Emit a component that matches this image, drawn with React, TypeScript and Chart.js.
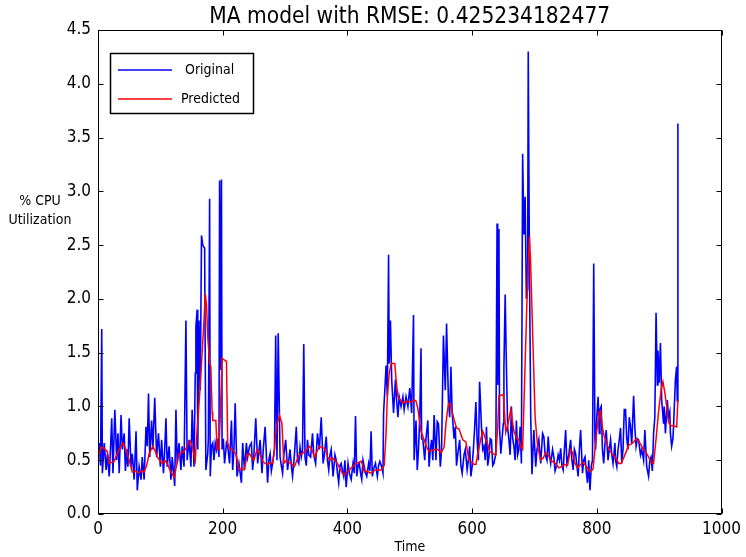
import React, { useEffect, useRef } from 'react';
import { Chart, registerables } from 'chart.js';

Chart.register(...registerables);

const TITLE = 'MA model with RMSE: 0.425234182477';
const X_LABEL = 'Time';
const Y_LABEL_LINES = ['% CPU', 'Utilization'];
const LEGEND_LABELS = ['Original', 'Predicted'];
const X_TICKS = [0, 200, 400, 600, 800, 1000];
const Y_TICKS = [0, 0.5, 1, 1.5, 2, 2.5, 3, 3.5, 4, 4.5];

// [time, % CPU]
const originalSeries: [number, number][] = [
  [0,0.55],[2,0.66],[4,0.45],[6,1.72],[7,0.38],[10,0.66],[13,0.41],[15,0.56],[18,0.35],[20,0.6],[22,0.89],[24,0.38],[27,0.97],[30,0.5],[32,0.75],[34,0.38],[37,0.92],[39,0.6],[42,0.75],[44,0.4],[46,0.6],[48,0.44],[50,0.89],[53,0.44],[55,0.56],[58,0.32],[61,0.77],[63,0.22],[66,0.44],[69,0.32],[71,0.53],[74,0.32],[77,0.81],[79,0.63],[81,1.12],[83,0.53],[86,0.87],[88,0.6],[91,1.08],[94,0.53],[97,0.75],[100,0.44],[102,0.69],[105,0.38],[107,0.6],[109,0.89],[111,0.44],[114,0.63],[117,0.32],[119,0.53],[121,0.4],[123,0.26],[125,0.97],[127,0.47],[130,0.66],[133,0.41],[135,0.63],[138,0.44],[141,1.8],[143,0.5],[146,0.69],[149,0.44],[151,0.97],[154,0.44],[156,1.31],[157,1.74],[159,1.9],[160,0.6],[162,1.8],[164,1.15],[166,2.59],[168,2.5],[171,2.47],[173,0.41],[176,0.56],[177,0.7],[179,2.93],[180,0.35],[182,0.63],[184,0.66],[186,0.5],[188,0.66],[190,0.6],[192,0.7],[194,0.53],[195,3.1],[197,1.34],[198,3.11],[199,0.6],[201,0.7],[203,0.47],[206,0.66],[208,0.63],[211,0.47],[214,0.87],[216,0.41],[218,0.6],[220,1.03],[223,0.35],[226,0.47],[228,0.38],[230,0.29],[232,0.66],[235,0.41],[238,0.66],[240,0.53],[243,0.63],
  [246,0.66],[248,0.41],[250,0.55],[253,0.89],[256,0.47],[260,0.69],[263,0.38],[265,0.6],[268,0.81],[272,0.29],[274,0.5],[276,0.56],[278,0.4],[280,0.47],[283,0.6],[285,1.66],[287,0.5],[289,1.68],[292,0.53],[294,0.45],[296,0.38],[298,0.55],[301,0.69],[304,0.41],[306,0.5],[308,0.6],[310,0.45],[312,0.35],[315,0.55],[318,0.81],[320,0.5],[322,0.47],[324,0.62],[326,0.53],[328,0.6],[330,1.58],[332,0.53],[334,0.45],[336,0.69],[338,0.55],[341,0.53],[344,0.75],[346,0.55],[349,0.47],[352,0.75],[355,0.6],[358,0.9],[361,0.47],[363,0.55],[366,0.72],[368,0.5],[370,0.41],[372,0.55],[374,0.6],[377,0.35],[380,0.55],[382,0.5],[384,0.38],[386,0.29],[388,0.45],[390,0.47],[392,0.4],[394,0.35],[396,0.5],[398,0.25],[401,0.47],[403,0.38],[406,0.32],[409,0.47],[411,0.38],[413,0.91],[415,0.35],[417,0.45],[419,0.47],[421,0.38],[423,0.32],[425,0.5],[427,0.44],[429,0.38],[431,0.35],[434,0.47],[436,0.4],[438,0.77],[440,0.35],[442,0.42],[445,0.47],[448,0.35],[450,0.45],[452,0.49],[455,0.44],[457,0.38],
  [458,0.94],[460,1.15],[462,1.38],[464,1.1],[466,2.41],[467,1.4],[469,1.8],[471,1.25],[474,0.94],[477,1.25],[479,1.05],[481,0.9],[483,1.09],[486,1.0],[489,1.09],[491,0.97],[494,1.09],[497,1.0],[500,1.17],[503,0.94],[506,1.85],[507,0.5],[510,0.87],[512,0.41],[514,0.6],[516,0.9],[518,1.54],[519,0.7],[521,0.69],[524,0.5],[526,0.7],[529,0.87],[531,0.44],[533,0.6],[535,0.69],[537,0.5],[539,0.92],[542,0.5],[544,0.86],[546,0.84],[549,0.44],[551,0.6],[554,1.66],[557,1.15],[559,1.77],[562,1.06],[564,0.9],[566,1.37],[568,0.94],[571,0.7],[573,0.81],[575,0.45],[577,0.56],[580,0.69],[582,0.45],[584,0.38],[587,0.55],[589,0.6],[592,0.41],[594,0.5],[596,0.63],[598,0.35],[600,0.44],[602,0.6],[604,0.8],[606,1.04],[608,0.69],[610,0.5],[612,1.23],[615,0.81],[617,0.6],[619,0.63],[621,0.5],[623,0.81],[625,0.45],[627,0.53],[629,0.7],[631,0.69],[633,0.45],[635,0.47],[638,0.56],[640,2.7],[641,1.2],[643,2.65],[644,0.8],[646,0.56],[648,0.7],[650,0.84],[651,1.37],[653,2.04],[655,1.37],[657,0.8],[659,0.69],[661,0.55],[663,1.0],[665,0.7],[667,0.63],[669,0.5],[671,0.87],[673,0.55],[675,0.6],[677,0.81],[679,0.47],[681,3.35],[683,2.6],[685,2.95],[687,2.0],[689,2.1],[690,4.3],[692,2.24],[694,0.9],[696,0.37],[699,0.78],[702,0.44],[704,0.6],[707,0.69],[710,0.47],
  [713,0.75],[715,0.72],[717,0.56],[720,0.5],[722,0.72],[724,0.55],[726,0.47],[729,0.6],[731,0.53],[733,0.4],[735,0.44],[738,0.55],[740,0.5],[742,0.61],[744,0.45],[746,0.41],[748,0.6],[750,0.78],[752,0.47],[755,0.55],[758,0.69],[760,0.5],[762,0.41],[764,0.6],[766,0.56],[768,0.45],[770,0.35],[772,0.6],[774,0.78],[777,0.38],[779,0.5],[781,0.53],[783,0.4],[785,0.29],[787,0.5],[789,0.22],[791,0.44],[793,0.5],[795,2.33],[797,0.69],[798,0.6],[800,0.9],[802,1.09],[804,0.75],[805,0.97],[807,1.0],[809,0.6],[811,0.47],[813,0.65],[815,0.78],[818,0.5],[820,0.6],[822,0.69],[824,0.55],[826,0.47],[829,0.66],[830,0.5],[832,0.44],[834,0.6],[836,0.69],[838,0.8],[840,0.47],[842,0.6],[844,0.97],[846,0.97],[848,0.7],[850,0.6],[852,0.9],[854,0.81],[856,0.65],[859,1.1],[861,0.8],[863,0.63],[865,0.7],[867,0.69],[870,0.55],[872,0.6],[875,0.5],[877,0.78],[880,0.44],[883,0.35],[885,0.5],[887,0.53],[889,0.4],[891,0.75],[893,0.9],[895,1.87],[897,1.2],[898,1.52],[900,1.22],[902,1.59],[904,1.06],[907,0.84],[908,1.0],[910,0.75],[913,1.06],[915,0.9],[917,0.95],[918,0.75],[920,0.63],[922,0.7],[923,0.81],[926,1.25],[928,1.37],[929,1.05],[930,3.63]
];

const predictedSeries: [number, number][] = [
  [0,0.55],[2,0.56],[5,0.62],[10,0.61],[15,0.58],[18,0.47],[22,0.48],[26,0.49],[30,0.55],[34,0.6],[40,0.66],[45,0.6],[50,0.5],[55,0.39],[60,0.4],[65,0.38],[70,0.4],[74,0.39],[78,0.45],[82,0.56],[88,0.63],[92,0.58],[95,0.53],[100,0.49],[103,0.47],[107,0.5],[111,0.47],[116,0.4],[122,0.34],[126,0.45],[130,0.56],[134,0.57],[138,0.58],[142,0.62],[146,0.67],[148,0.68],[151,0.63],[156,0.5],[158,0.7],[161,0.94],[164,1.2],[167,1.5],[170,1.8],[172,2.05],[174,1.95],[176,1.65],[179,1.4],[181,1.37],[183,0.95],[184,0.87],[189,0.87],[191,0.6],[194,0.6],[196,0.9],[199,1.45],[203,1.43],[206,1.42],[208,0.66],[212,0.6],[215,0.6],[218,0.58],[221,0.56],[224,0.48],[226,0.41],[230,0.42],[234,0.41],[237,0.48],[239,0.55],[243,0.56],
  [246,0.53],[250,0.5],[254,0.58],[256,0.6],[260,0.55],[264,0.49],[268,0.47],[272,0.46],[276,0.48],[280,0.47],[283,0.6],[286,0.81],[291,0.92],[295,0.84],[298,0.47],[302,0.5],[306,0.48],[310,0.47],[315,0.44],[319,0.5],[323,0.55],[327,0.56],[331,0.58],[335,0.6],[339,0.63],[343,0.6],[347,0.53],[351,0.58],[355,0.63],[359,0.62],[363,0.61],[366,0.58],[368,0.53],[372,0.5],[376,0.52],[380,0.5],[384,0.47],[388,0.42],[392,0.38],[395,0.36],[399,0.39],[403,0.41],[408,0.44],[414,0.47],[418,0.48],[422,0.49],[425,0.45],[427,0.39],[432,0.4],[436,0.38],[440,0.39],[445,0.41],[450,0.41],[454,0.41],[459,0.45],
  [462,0.75],[464,1.09],[467,1.3],[470,1.4],[476,1.4],[478,1.25],[481,1.09],[485,1.06],[489,1.03],[495,1.05],[502,1.04],[507,1.06],[510,1.05],[513,0.98],[516,0.85],[518,0.77],[523,0.69],[527,0.62],[531,0.58],[539,0.6],[545,0.6],[550,0.57],[555,0.62],[558,0.84],[562,1.03],[566,1.0],[571,0.88],[575,0.8],[579,0.79],[585,0.69],[590,0.67],[595,0.5],[598,0.49],[603,0.46],[606,0.46],[609,0.56],[614,0.7],[617,0.77],[622,0.69],[625,0.65],[628,0.58],[634,0.56],[638,0.55],[641,0.8],[643,1.1],[650,1.11],[654,0.76],[658,0.85],[662,0.97],[667,0.77],[672,0.7],[675,0.69],[678,0.63],[681,0.6],[684,1.2],[688,2.0],[692,2.58],[694,2.3],[698,1.5],[701,0.9],[705,0.63],[710,0.5],
  [714,0.52],[718,0.57],[722,0.55],[726,0.5],[731,0.48],[735,0.46],[739,0.43],[744,0.44],[748,0.46],[753,0.45],[758,0.6],[761,0.57],[765,0.47],[769,0.43],[774,0.46],[778,0.48],[782,0.45],[786,0.42],[790,0.39],[794,0.42],[797,0.6],[800,0.78],[804,0.95],[806,0.96],[809,0.8],[812,0.72],[816,0.65],[820,0.6],[825,0.55],[830,0.53],[835,0.47],[839,0.47],[843,0.52],[847,0.58],[851,0.64],[855,0.65],[859,0.67],[863,0.7],[867,0.68],[871,0.64],[875,0.6],[879,0.57],[883,0.53],[887,0.48],[891,0.47],[895,0.7],[899,0.95],[903,1.15],[906,1.23],[909,1.13],[912,1.0],[915,0.85],[919,0.82],[923,0.82],[928,0.81],[930,1.06]
];

const BLUE = '#0000ff';
const RED = '#ff0000';
const FONT = '"DejaVu Sans Condensed", "DejaVu Sans", sans-serif';

const mplPlugin = {
  id: 'mplDecor',
  afterDraw(chart: any) {
    const { ctx, chartArea } = chart;
    const { left, right, top, bottom } = chartArea;
    const xs = chart.scales.x;
    const ys = chart.scales.y;
    ctx.save();
    // title centred over the axes
    ctx.fillStyle = '#000';
    ctx.font = `22.5px ${FONT}`;
    ctx.textAlign = 'center';
    ctx.textBaseline = 'middle';
    ctx.fillText(TITLE, (left + right) / 2, 17);
    // frame
    ctx.strokeStyle = '#000';
    ctx.lineWidth = 1;
    const L = Math.round(left) + 0.5, R = Math.round(right) - 0.5;
    const T = Math.round(top) + 0.5, B = Math.round(bottom) - 0.5;
    ctx.strokeRect(L, T, R - L, B - T);
    // inward ticks on all sides
    const tl = 5;
    ctx.beginPath();
    X_TICKS.forEach((v) => {
      const p = Math.round(xs.getPixelForValue(v)) + 0.5;
      ctx.moveTo(p, B); ctx.lineTo(p, B - tl);
      ctx.moveTo(p, T); ctx.lineTo(p, T + tl);
    });
    Y_TICKS.forEach((v) => {
      const p = Math.round(ys.getPixelForValue(v)) + 0.5;
      ctx.moveTo(L, p); ctx.lineTo(L + tl, p);
      ctx.moveTo(R, p); ctx.lineTo(R - tl, p);
    });
    ctx.stroke();
    // horizontal y label
    ctx.fillStyle = '#000';
    ctx.font = `14px ${FONT}`;
    ctx.textAlign = 'center';
    ctx.fillText(Y_LABEL_LINES[0], 40, 201);
    ctx.fillText(Y_LABEL_LINES[1], 40, 220);
    // legend
    const bx = 110.5, by = 53.5, bw = 143, bh = 60;
    ctx.fillStyle = '#fff';
    ctx.fillRect(bx, by, bw, bh);
    ctx.lineWidth = 1.5;
    ctx.strokeStyle = '#000';
    ctx.strokeRect(bx, by, bw, bh);
    const rows = [
      { label: LEGEND_LABELS[0], color: BLUE, y: 70, x: 185 },
      { label: LEGEND_LABELS[1], color: RED, y: 99, x: 181 },
    ];
    ctx.textAlign = 'left';
    ctx.font = `14px ${FONT}`;
    rows.forEach((r) => {
      ctx.strokeStyle = r.color;
      ctx.lineWidth = 1.6;
      ctx.beginPath();
      ctx.moveTo(118, r.y);
      ctx.lineTo(172, r.y);
      ctx.stroke();
      ctx.fillStyle = '#000';
      ctx.fillText(r.label, r.x, r.y);
    });
    ctx.restore();
  },
};

export default function App() {
  const canvasRef = useRef<HTMLCanvasElement | null>(null);

  useEffect(() => {
    document.body.style.margin = '0';
    const canvas = canvasRef.current;
    if (!canvas) return;
    Chart.defaults.font.family = FONT;
    Chart.defaults.color = '#000';
    const chart = new Chart(canvas, {
      type: 'line',
      data: {
        datasets: [
          {
            label: LEGEND_LABELS[1],
            data: predictedSeries.map(([x, y]) => ({ x, y })),
            borderColor: RED,
            borderWidth: 1.5,
            pointRadius: 0,
            tension: 0,
            fill: false,
            order: 0,
          },
          {
            label: LEGEND_LABELS[0],
            data: originalSeries.map(([x, y]) => ({ x, y })),
            borderColor: BLUE,
            borderWidth: 1.6,
            pointRadius: 0,
            tension: 0,
            fill: false,
            order: 1,
          },
        ],
      },
      options: {
        animation: false,
        responsive: false,
        devicePixelRatio: 1,
        layout: { padding: { top: 30, right: 23, left: 0, bottom: 0 } },
        plugins: {
          legend: { display: false },
          tooltip: { enabled: false },
          title: { display: false },
        },
        scales: {
          x: {
            type: 'linear',
            min: 0,
            max: 1000,
            grid: { display: false, drawTicks: false },
            border: { display: false },
            afterBuildTicks: (s: any) => { s.ticks = X_TICKS.map((v) => ({ value: v })); },
            afterFit: (s: any) => { s.height = 43; },
            ticks: {
              color: '#000',
              font: { size: 17 },
              padding: 5,
              maxRotation: 0,
              callback: (v: any) => String(v),
            },
            title: {
              display: true,
              text: X_LABEL,
              color: '#000',
              font: { size: 14 },
              padding: { top: 0, bottom: 1 },
            },
          },
          y: {
            type: 'linear',
            min: 0,
            max: 4.5,
            grid: { display: false, drawTicks: false },
            border: { display: false },
            afterBuildTicks: (s: any) => { s.ticks = Y_TICKS.map((v) => ({ value: v })); },
            afterFit: (s: any) => { s.width = 98; },
            ticks: {
              color: '#000',
              font: { size: 17 },
              padding: 7,
              callback: (v: any) => Number(v).toFixed(1),
            },
          },
        },
      },
      plugins: [mplPlugin],
    } as any);
    return () => chart.destroy();
  }, []);

  return (
    <div style={{ width: 746, height: 557, background: '#fff' }}>
      <canvas ref={canvasRef} width={746} height={557} style={{ display: 'block' }} />
    </div>
  );
}
